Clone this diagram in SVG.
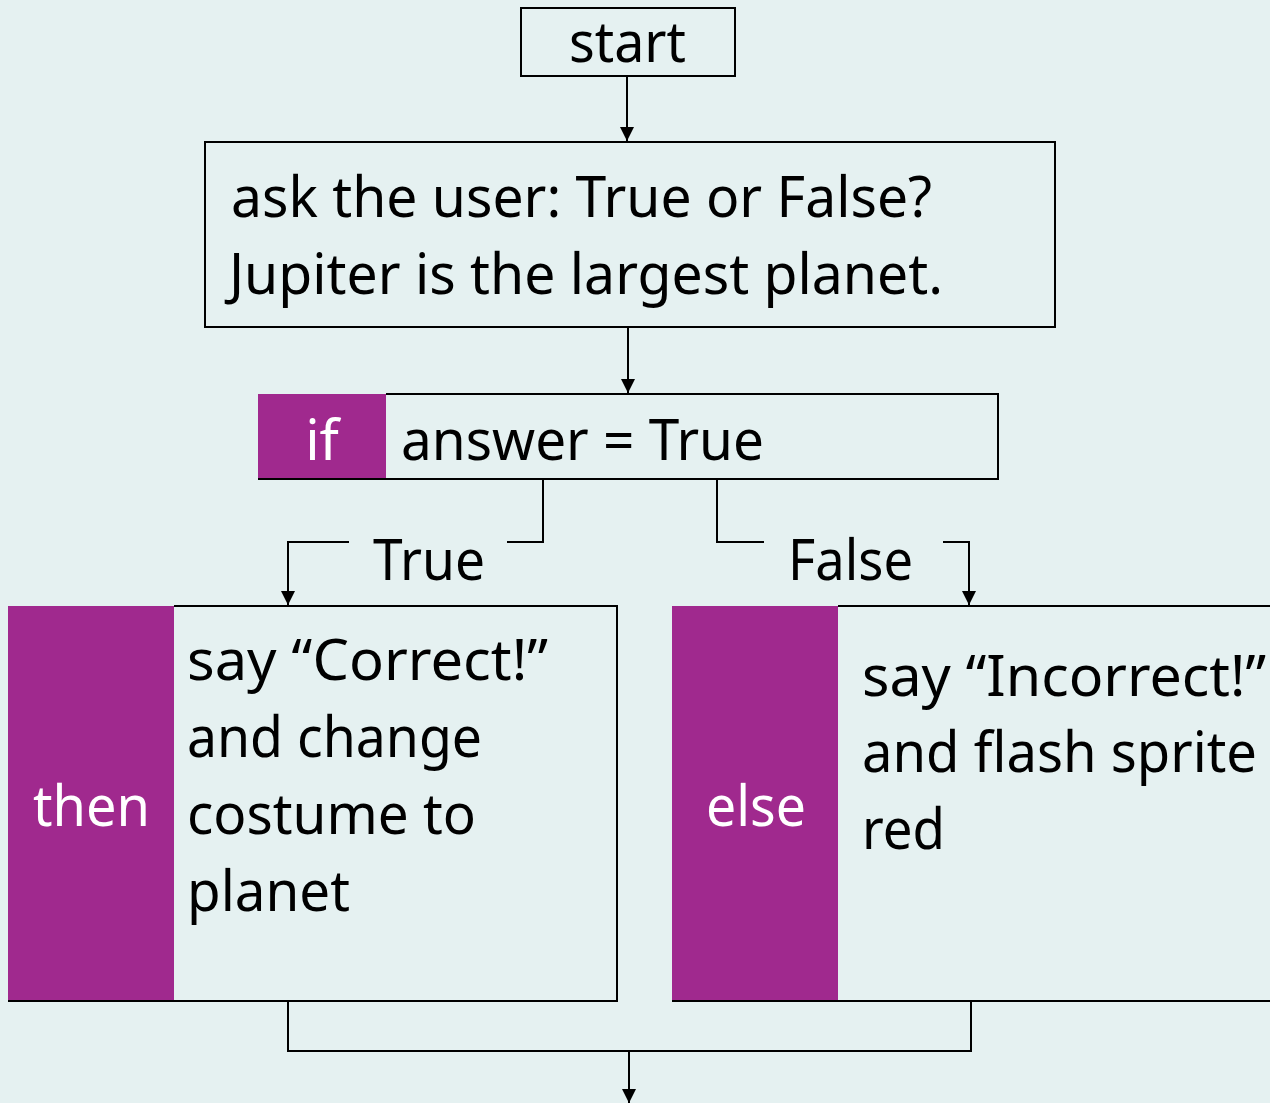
<svg xmlns="http://www.w3.org/2000/svg" width="1270" height="1103" viewBox="0 0 1270 1103">
  <style>
    .t { font-family: "Noto Sans", "Open Sans", sans-serif; font-size: 56px; fill: #000; }
    .w { fill: #fff; }
    .box { fill: none; stroke: #000; stroke-width: 2; }
    .tag { fill: #a0298e; }
    .ln { fill: none; stroke: #000; stroke-width: 2; }
  </style>
  <defs>
    <marker id="ah" viewBox="0 0 10 10" refX="10" refY="5" markerWidth="14" markerHeight="14" markerUnits="userSpaceOnUse" orient="auto">
      <path d="M0,0 L10,5 L0,10 Z" fill="#000"/>
    </marker>
  </defs>
  <rect width="1270" height="1103" fill="#e5f1f1"/>

  <g id="start">
    <rect class="box" x="521" y="8" width="214" height="68"/>
    <text class="t" x="569" y="62" textLength="117" lengthAdjust="spacingAndGlyphs">start</text>
  </g>

  <g id="ask">
    <rect class="box" x="205" y="142" width="850" height="185"/>
    <text class="t" x="231" y="217" textLength="701" lengthAdjust="spacingAndGlyphs">ask the user: True or False?</text>
    <text class="t" x="229" y="294" textLength="714" lengthAdjust="spacingAndGlyphs">Jupiter is the largest planet.</text>
  </g>

  <g id="if">
    <rect class="tag" x="258" y="394" width="128" height="86"/>
    <path class="ln" d="M386,394 H998 V479 H258"/>
    <text class="t w" x="322" y="460" text-anchor="middle">if</text>
    <text class="t" x="401" y="460" textLength="363" lengthAdjust="spacingAndGlyphs">answer = True</text>
  </g>

  <g id="then">
    <rect class="tag" x="8" y="606" width="166" height="395"/>
    <path class="ln" d="M174,606 H617 V1001 H8"/>
    <text class="t w" x="33" y="826" textLength="117" lengthAdjust="spacingAndGlyphs">then</text>
    <text class="t" x="187" y="680" textLength="361" lengthAdjust="spacingAndGlyphs">say “Correct!”</text>
    <text class="t" x="187" y="757" textLength="295" lengthAdjust="spacingAndGlyphs">and change</text>
    <text class="t" x="187" y="834" textLength="289" lengthAdjust="spacingAndGlyphs">costume to</text>
    <text class="t" x="187" y="911" textLength="163" lengthAdjust="spacingAndGlyphs">planet</text>
  </g>

  <g id="else">
    <rect class="tag" x="672" y="606" width="166" height="395"/>
    <path class="ln" d="M838,606 H1272 M1272,1001 H672"/>
    <text class="t w" x="706" y="826" textLength="100" lengthAdjust="spacingAndGlyphs">else</text>
    <text class="t" x="862" y="696" textLength="404" lengthAdjust="spacingAndGlyphs">say “Incorrect!”</text>
    <text class="t" x="862" y="772" textLength="395" lengthAdjust="spacingAndGlyphs">and flash sprite</text>
    <text class="t" x="862" y="849" textLength="83" lengthAdjust="spacingAndGlyphs">red</text>
  </g>

  <g id="connectors">
    <path class="ln" d="M627,76 V141" marker-end="url(#ah)"/>
    <path class="ln" d="M628,327 V393" marker-end="url(#ah)"/>
    <path class="ln" d="M543,480 V542 H507"/>
    <path class="ln" d="M349,542 H288 V605" marker-end="url(#ah)"/>
    <text class="t" x="373" y="580" textLength="112" lengthAdjust="spacingAndGlyphs">True</text>
    <path class="ln" d="M717,480 V542 H764"/>
    <path class="ln" d="M943,542 H969 V605" marker-end="url(#ah)"/>
    <text class="t" x="788" y="580" textLength="125" lengthAdjust="spacingAndGlyphs">False</text>
    <path class="ln" d="M288,1001 V1051 H971 V1001"/>
    <path class="ln" d="M629,1051 V1103" marker-end="url(#ah)"/>
  </g>
</svg>
